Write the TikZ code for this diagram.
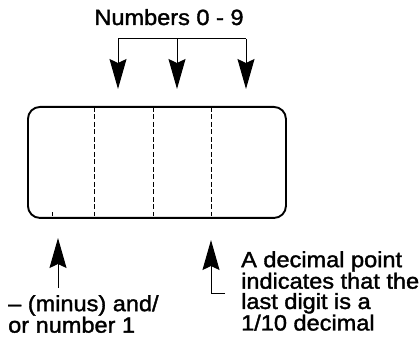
\documentclass[tikz,border=0pt]{standalone}
\usepackage{fontspec}
\setmainfont{Liberation Sans}[FakeStretch=1.07,FakeBold=1.6]
\usetikzlibrary{arrows.meta,positioning}
\tikzset{
  displayframe/.style={
    draw,
    line width=1.9pt,
    rounded corners=12pt,
    minimum width=258pt,
    minimum height=111pt,
    inner sep=0pt
  },
  labeltext/.style={
    inner sep=0pt,
    align=left,
    font=\fontsize{22}{20.3}\selectfont
  },
  digitdivider/.style={dash pattern=on 5pt off 2.5pt, line width=0.8pt},
  digitarrow/.style={-{Stealth[length=30pt,width=17pt,inset=4pt]}, line width=1pt}
}

\begin{document}
\begin{tikzpicture}[x=1pt,y=-1pt]
\useasboundingbox[fill=white] (0,0) rectangle (420,347);

\node[labeltext, anchor=base] (numbers) at (169,25) {Numbers 0 - 9};
\node[displayframe, anchor=north west] (display) at (27,106) {};
\foreach \x in {94,153,211}
  \draw[digitdivider] (\x,107) -- (\x,216);
\draw[line width=0.8pt] (52,216) -- (52,212);

\coordinate (fork) at (177,39);
\coordinate (first) at (118,89);
\coordinate (second) at (177,89);
\coordinate (third) at (246,89);
\draw[line width=1pt] (first |- fork) -- (third |- fork);
\foreach \name in {first,second,third}
  \draw[digitarrow] (\name |- fork) -- (\name);

\node[labeltext, anchor=north west] (minus) at (8,295) {-- (minus) and/\\or number 1};
\node[labeltext, anchor=north west] (decimal) at (241,251) {A decimal point\\indicates that the\\last digit is a\\1/10 decimal};
\coordinate (signtip) at (58,238);
\coordinate (pointtip) at (211,240);
\draw[digitarrow] (58,288) -- (signtip);
\draw[digitarrow] (225,293) -| (pointtip);
\end{tikzpicture}
\end{document}
